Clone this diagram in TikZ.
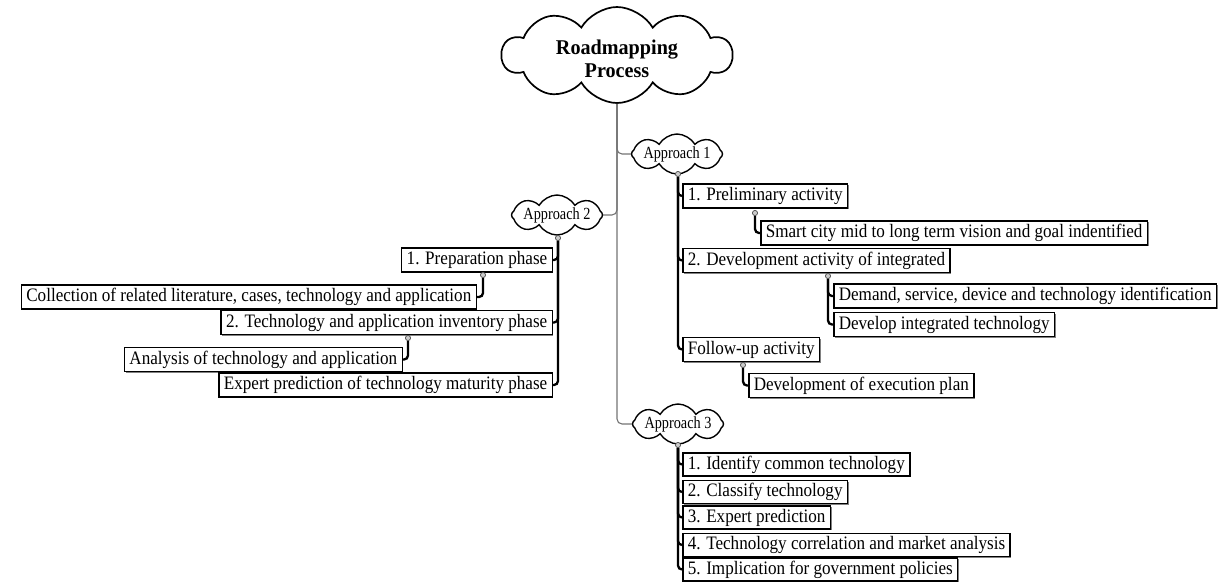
\documentclass[tikz,border=0pt]{standalone}
\usepackage{fontspec}
\setmainfont{Liberation Serif}
\newfontfamily\boxfont{Liberation Serif}[FakeStretch=0.9]
\newfontfamily\cloudfont{Liberation Serif}[FakeStretch=0.84]
\newfontfamily\rootfont{Liberation Serif}[FakeStretch=0.96]
\usetikzlibrary{shapes,shadows,positioning}

\tikzset{
  rootcloud/.style={cloud, cloud puffs=10, cloud puff arc=120, cloud ignores aspect, draw, line width=1.7pt, minimum width=230pt, minimum height=96pt, inner sep=0pt},
  rootlabel/.style={align=center, yshift=-4pt, font=\rootfont\fontsize{21}{23}\selectfont\bfseries},
  approach/.style={cloud, cloud puffs=8, cloud puff arc=120, cloud ignores aspect, draw, line width=1.4pt, minimum width=91pt, minimum height=40pt, inner sep=0pt},
  approachtext/.style={font=\cloudfont\fontsize{17}{18}\selectfont, inner sep=0pt},
  box/.style={draw, line width=1.5pt, fill=white, inner xsep=5pt, inner ysep=0pt, minimum height=24pt, text height=13pt, text depth=4pt, font=\boxfont\fontsize{19}{21}\selectfont, drop shadow={shadow xshift=1.2pt, shadow yshift=-1.2pt, fill=black!70, opacity=.7}},
  dot/.style={circle, draw=black!70, fill=black!20, line width=.6pt, inner sep=0pt, minimum size=5pt},
  trunk/.style={draw=black!55, line width=1.1pt, rounded corners=5pt},
  link/.style={line width=2.3pt, rounded corners=4pt},
}

\begin{document}
\begin{tikzpicture}[x=1pt,y=-1pt]
	\useasboundingbox (0,0) rectangle (1218,581);

	\node[rootcloud, label={[rootlabel]center:{Roadmapping\\Process}}] (root) at (617,55) {};
	\node[approach, label={[approachtext]center:Approach 1}] (a1) at (677,154) {};
	\node[approach, label={[approachtext]center:Approach 2}] (a2) at (557,215) {};
	\node[approach, label={[approachtext]center:Approach 3}] (a3) at (678,424) {};

	\draw[trunk] (root.south) |- (a1.west);
	\draw[trunk] (root.south) |- (a2.east);
	\draw[trunk] (root.south) |- (a3.west);

	% approach 1
	\node[box, anchor=west] (p11) at (682,196) {1. Preliminary activity};
	\node[box, anchor=west] (s11) at (760,233) {Smart city mid to long term vision and goal indentified};
	\node[box, anchor=west] (p12) at (682,260.5) {2. Development activity of integrated};
	\node[box, anchor=west] (s121) at (833,296) {Demand, service, device and technology identification};
	\node[box, anchor=west] (s122) at (833,324.5) {Develop integrated technology};
	\node[box, anchor=west] (p13) at (682,349.5) {Follow-up activity};
	\node[box, anchor=west] (s13) at (748,385.5) {Development of execution plan};

	% approach 2
	\node[box, anchor=east] (p21) at (553,260) {1. Preparation phase};
	\node[box, anchor=east] (s21) at (477,297) {Collection of related literature, cases, technology and application};
	\node[box, anchor=east] (p22) at (553,322.5) {2. Technology and application inventory phase};
	\node[box, anchor=east] (s22) at (403,359.5) {Analysis of technology and application};
	\node[box, anchor=east] (p23) at (553,385) {Expert prediction of technology maturity phase};

	% approach 3
	\node[box, anchor=west, minimum height=23pt] (p31) at (682,464.5) {1. Identify common technology};
	\node[box, anchor=west, minimum height=23pt] (p32) at (682,492) {2. Classify technology};
	\node[box, anchor=west, minimum height=23pt] (p33) at (682,517.5) {3. Expert prediction};
	\node[box, anchor=west, minimum height=23pt] (p34) at (682,545) {4. Technology correlation and market analysis};
	\node[box, anchor=west, minimum height=23pt] (p35) at (682,569.5) {5. Implication for government policies};

	% connectors
	\node[dot] (d1) at (678,174) {};
	\node[dot] (d2) at (558,238) {};
	\node[dot] (d3) at (678,445) {};
	\node[dot] (d11) at (755,213) {};
	\node[dot] (d12) at (828,276) {};
	\node[dot] (d13) at (743,365) {};
	\node[dot] (d21) at (483,275) {};
	\node[dot] (d22) at (408,338) {};

	\draw[trunk, line width=.8pt] (a1.south) -- (d1);
	\draw[trunk, line width=.8pt] (a2.south) -- (d2);
	\draw[trunk, line width=.8pt] (a3.south) -- (d3);

	\draw[link] (d1) |- (p11.west);
	\draw[link] (d1) |- (p12.west);
	\draw[link] (d1) |- (p13.west);
	\draw[link] (d11) |- (s11.west);
	\draw[link] (d12) |- (s121.west);
	\draw[link] (d12) |- (s122.west);
	\draw[link] (d13) |- (s13.west);

	\draw[link] (d2) |- (p21.east);
	\draw[link] (d2) |- (p22.east);
	\draw[link] (d2) |- (p23.east);
	\draw[link] (d21) |- (s21.east);
	\draw[link] (d22) |- (s22.east);

	\foreach \k in {1,...,5}
		\draw[link] (d3) |- (p3\k.west);

	\foreach \d in {d1,d2,d3,d11,d12,d13,d21,d22}
		\node[dot] at (\d) {};
\end{tikzpicture}
\end{document}
